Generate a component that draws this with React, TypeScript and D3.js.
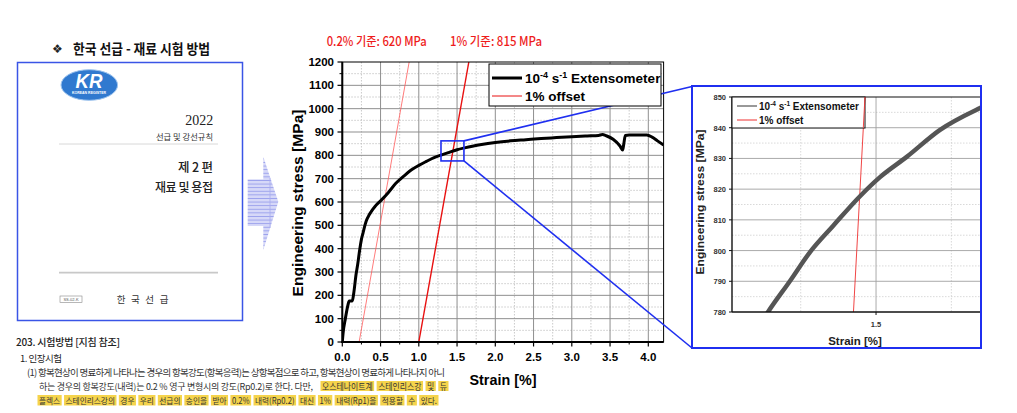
import React from "react";
import * as d3 from "d3";

// ---------------- data ----------------
const mainStrain = [0, 0.01, 0.04, 0.075, 0.09, 0.13, 0.15, 0.18, 0.2, 0.227, 0.25, 0.27, 0.3, 0.314, 0.35, 0.38, 0.43, 0.51, 0.6, 0.7, 0.8, 0.9, 1.0, 1.1, 1.2, 1.3, 1.4, 1.5, 1.6, 1.7, 1.8, 2.0, 2.2, 2.4, 2.6, 2.8, 3.0, 3.2, 3.35, 3.4, 3.45, 3.54, 3.63, 3.665, 3.68, 3.7, 3.75, 3.98, 4.05, 4.12, 4.2];
const mainStress = [0, 37, 100, 160, 176, 176, 210, 290, 330, 394, 440, 466, 505, 520, 544, 560, 582, 608, 640, 680, 710, 737, 757, 774, 790, 802, 813, 824, 832, 839, 845, 855, 862, 867, 872, 876, 880, 883, 885, 889, 884, 869, 840, 823, 850, 885, 887, 887, 878, 862, 844];

const insetStrain = [1.12, 1.1415, 1.2145, 1.2809, 1.3572, 1.4468, 1.5132, 1.6018, 1.7124, 1.8451, 1.86];
const insetStress = [776.7, 780, 790.1, 799.5, 808.0, 817.7, 823.9, 830.5, 839.3, 846.4, 847.1];

const offsetStrains = [0.22, 1.0]; // 0.2% line, 1% line
const strainPerMPa = 0.000545;

const mainXTicks = [0, 0.5, 1.0, 1.5, 2.0, 2.5, 3.0, 3.5, 4.0];
const mainYTicks = [0, 100, 200, 300, 400, 500, 600, 700, 800, 900, 1000, 1100, 1200];
const insetXTicks = [1.5];
const insetYTicks = [780, 790, 800, 810, 820, 830, 840, 850];

const zoomBoxStrain = [1.29, 1.59];
const zoomBoxStress = [776, 862];

const annotations = ["0.2% 기준: 620 MPa", "1% 기준: 815 MPa"];
const legendLabels = ["Extensometer", "1% offset"];

const highlightLine2 = ["오스테나이트계", "스테인리스강", "및", "듀"];
const highlightLine3 = ["플렉스", "스테인리스강의", "경우", "우리", "선급의", "승인을", "받아", "0.2%", "내력(Rp0.2)", "대신", "1%", "내력(Rp1)을", "적용할", "수", "있다."];

// ---------------- helpers ----------------
const KFONT = "'Noto Sans CJK KR', 'Noto Sans', sans-serif";
const AFONT = "'Liberation Sans', Arial, sans-serif";
const SFONT = "'Liberation Serif', 'DejaVu Serif', serif";

let _ctx: CanvasRenderingContext2D | null = null;
function measure(t: string, font: string): number {
  if (typeof document !== "undefined" && !_ctx) {
    _ctx = document.createElement("canvas").getContext("2d");
  }
  if (_ctx) {
    _ctx.font = font;
    return _ctx.measureText(t).width;
  }
  return t.length * 8;
}

function layoutWords(words: string[], x0: number, x1: number, size: number) {
  const font = `${size}px 'Noto Sans CJK KR'`;
  const ws = words.map((w) => measure(w, font));
  const gap = size * 0.7;
  const natural = ws.reduce((a, b) => a + b, 0) + gap * (words.length - 1);
  const s = (x1 - x0) / natural;
  let x = x0;
  return words.map((w, i) => {
    const r = { w, x, width: ws[i] * s };
    x += (ws[i] + gap) * s;
    return r;
  });
}

export default function App() {
  // main scales
  const xM = d3.scaleLinear().domain([0, 4.2]).range([342.3, 663.6]);
  const yM = d3.scaleLinear().domain([0, 1200]).range([342, 62]);
  // inset scales
  const xI = d3.scaleLinear().domain([1.022, 1.845]).range([732, 980]);
  const yI = d3.scaleLinear().domain([780, 850]).range([312, 97]);

  const mainPts: [number, number][] = mainStrain.map((s, i) => [s, mainStress[i]]);
  const insetPts: [number, number][] = insetStrain.map((s, i) => [s, insetStress[i]]);

  const lineM = d3.line<[number, number]>().x((d) => xM(d[0])).y((d) => yM(d[1])).curve(d3.curveMonotoneX);
  const lineMStraight = d3.line<[number, number]>().x((d) => xM(d[0])).y((d) => yM(d[1]));
  const lineI = d3.line<[number, number]>().x((d) => xI(d[0])).y((d) => yI(d[1])).curve(d3.curveMonotoneX);
  const lineIStraight = d3.line<[number, number]>().x((d) => xI(d[0])).y((d) => yI(d[1]));

  const offsetLine = (o: number): [number, number][] => [
    [o, 0],
    [o + 1200 * strainPerMPa, 1200],
  ];

  const minorX = d3.range(0.25, 4.2, 0.5);
  const minorY = d3.range(50, 1200, 100);
  const insetMinorX = [1.25, 1.75];
  const insetMinorY = d3.range(785, 850, 10);

  const bx0 = xM(zoomBoxStrain[0]);
  const bx1 = xM(zoomBoxStrain[1]);
  const by0 = yM(zoomBoxStress[1]);
  const by1 = yM(zoomBoxStress[0]);

  const inset = { x: 692, y: 86, w: 289, h: 262 };

  const hl2 = layoutWords(highlightLine2, 322, 447, 10);
  const hl3 = layoutWords(highlightLine3, 39, 437, 10);

  const blue = "#1f2ff0";

  return (
    <svg width={1017} height={413} style={{ position: "absolute", left: 0, top: 0, background: "#fff" }}>
      <defs>
        <clipPath id="mainClip">
          <rect x={342.3} y={62} width={663.6 - 342.3} height={280} />
        </clipPath>
        <clipPath id="insetClip">
          <rect x={732} y={97} width={248} height={215} />
        </clipPath>
        <pattern id="stripes" width={6} height={3.6} patternUnits="userSpaceOnUse">
          <rect width={6} height={3.6} fill="#d6d8f8" />
          <rect width={6} height={0.9} fill="#9aa0ec" />
        </pattern>
      </defs>

      {/* ---------- left document ---------- */}
      <text x={52} y={52.5} fontFamily="'DejaVu Sans', sans-serif" fontSize={12} fill="#222">❖</text>
      <text x={73} y={53.5} fontFamily={KFONT} fontWeight={700} fontSize={14} fill="#111" textLength={137} lengthAdjust="spacingAndGlyphs">
        한국 선급 - 재료 시험 방법
      </text>

      <rect x={17.5} y={62.5} width={225} height={258} fill="#fff" stroke="#3a55e6" strokeWidth={1.5} />
      {/* KR logo */}
      <ellipse cx={89.3} cy={85} rx={28.3} ry={15.3} fill="#3079cf" stroke="#9cc3ee" strokeWidth={1} />
      <text x={89} y={88} textAnchor="middle" fontFamily={AFONT} fontStyle="italic" fontWeight={700} fontSize={20} fill="#fff" textLength={27} lengthAdjust="spacingAndGlyphs">KR</text>
      <text x={89} y={94} textAnchor="middle" fontFamily={AFONT} fontWeight={700} fontSize={3.6} fill="#fff" textLength={34} lengthAdjust="spacingAndGlyphs">KOREAN REGISTER</text>

      <text x={213.3} y={125} textAnchor="end" fontFamily={SFONT} fontSize={14} fill="#222">2022</text>
      <text x={213} y={140} textAnchor="end" fontFamily={KFONT} fontSize={8} fill="#333" textLength={57} lengthAdjust="spacingAndGlyphs">선급 및 강선규칙</text>
      <line x1={59} x2={218} y1={144} y2={144} stroke="#d8d8d8" strokeWidth={1} />
      <text x={213} y={171.5} textAnchor="end" fontFamily={KFONT} fontWeight={500} fontSize={12.5} fill="#222" textLength={35} lengthAdjust="spacing">제 2 편</text>
      <text x={213} y={191.5} textAnchor="end" fontFamily={KFONT} fontWeight={500} fontSize={12} fill="#222" textLength={58} lengthAdjust="spacing">재료 및 용접</text>
      <line x1={59} x2={218} y1={272.7} y2={272.7} stroke="#c8c8c8" strokeWidth={1.8} />
      <rect x={60} y={296} width={22} height={6.5} fill="#fff" stroke="#888" strokeWidth={0.6} />
      <text x={71} y={301.3} textAnchor="middle" fontFamily={AFONT} fontSize={4} fill="#555">SS-02-K</text>
      <text x={116.7} y={302.5} fontFamily={KFONT} fontSize={9.5} fill="#333" textLength={51.7} lengthAdjust="spacing">한 국 선 급</text>

      {/* arrow */}
      <polygon
        points="247.7,179.3 263.3,179.3 263.3,156.7 278.3,201.7 263.3,250 263.3,226 247.7,226"
        fill="url(#stripes)"
      />
      <line x1={270} x2={270} y1={178} y2={228} stroke="#a8acef" strokeWidth={0.8} />

      {/* body text */}
      <text x={16} y={345.5} fontFamily={KFONT} fontWeight={500} fontSize={10} fill="#222" textLength={104} lengthAdjust="spacing">203. 시험방법  [지침 참조]</text>
      <text x={20} y={361.5} fontFamily={KFONT} fontSize={9.5} fill="#222" textLength={42} lengthAdjust="spacing">1. 인장시험</text>
      <text x={27} y={375.5} fontFamily={KFONT} fontSize={9.5} fill="#333" textLength={418} lengthAdjust="spacing">
        (1) 항복현상이 명료하게 나타나는 경우의 항복강도(항복응력)는 상항복점으로 하고, 항복현상이 명료하게 나타나지 아니
      </text>
      <text x={39} y={389.5} fontFamily={KFONT} fontSize={9} fill="#333" textLength={274} lengthAdjust="spacing">
        하는 경우의 항복강도(내력)는 0.2 % 영구 변형시의 강도(Rp0.2)로 한다. 다만,
      </text>
      {hl2.map((w, i) => (
        <rect key={"h2r" + i} x={w.x - 1.5} y={381} width={w.width + 3} height={10} fill="#f5d44c" />
      ))}
      {hl2.map((w, i) => (
        <text key={"h2t" + i} x={w.x} y={389.5} fontFamily={KFONT} fontSize={9} fill="#333" textLength={w.width} lengthAdjust="spacingAndGlyphs">{w.w}</text>
      ))}
      {hl3.map((w, i) => (
        <rect key={"h3r" + i} x={w.x - 1.5} y={395} width={w.width + 3} height={10.5} fill="#f5d44c" />
      ))}
      {hl3.map((w, i) => (
        <text key={"h3t" + i} x={w.x} y={403.5} fontFamily={KFONT} fontSize={8.5} fill="#333" textLength={w.width} lengthAdjust="spacingAndGlyphs">{w.w}</text>
      ))}

      {/* ---------- annotations ---------- */}
      <text x={326.7} y={46} fontFamily={KFONT} fontWeight={500} fontSize={12.5} fill="#ee1c1c" textLength={100} lengthAdjust="spacingAndGlyphs">{annotations[0]}</text>
      <text x={450} y={46} fontFamily={KFONT} fontWeight={500} fontSize={12.5} fill="#ee1c1c" textLength={92} lengthAdjust="spacingAndGlyphs">{annotations[1]}</text>

      {/* ---------- main chart ---------- */}
      {minorY.map((v) => (
        <line key={"my" + v} x1={342.3} x2={663.6} y1={yM(v)} y2={yM(v)} stroke="#bdbdbd" strokeWidth={0.8} strokeDasharray="1.5 1.5" />
      ))}
      {minorX.map((v) => (
        <line key={"mx" + v} x1={xM(v)} x2={xM(v)} y1={62} y2={342} stroke="#bdbdbd" strokeWidth={0.8} strokeDasharray="1.5 1.5" />
      ))}
      {mainYTicks.slice(1, -1).map((v) => (
        <line key={"gy" + v} x1={342.3} x2={663.6} y1={yM(v)} y2={yM(v)} stroke="#8f8f8f" strokeWidth={1} />
      ))}
      {mainXTicks.slice(1).map((v) => (
        <line key={"gx" + v} x1={xM(v)} x2={xM(v)} y1={62} y2={342} stroke="#8f8f8f" strokeWidth={1} />
      ))}

      <g clipPath="url(#mainClip)">
        <path d={lineMStraight(offsetLine(offsetStrains[0])) || ""} fill="none" stroke="#ff5a5a" strokeWidth={0.8} />
        <path d={lineMStraight(offsetLine(offsetStrains[1])) || ""} fill="none" stroke="#e81010" strokeWidth={1.4} />
        <path d={lineM(mainPts) || ""} fill="none" stroke="#000" strokeWidth={3} strokeLinejoin="round" />
      </g>

      {/* frame */}
      <rect x={342.3} y={62} width={663.6 - 342.3} height={280} fill="none" stroke="#000" strokeWidth={1} />
      <line x1={342.3} x2={342.3} y1={62} y2={343} stroke="#000" strokeWidth={2} />
      <line x1={341.3} x2={663.6} y1={342} y2={342} stroke="#000" strokeWidth={2} />

      {/* ticks */}
      {mainYTicks.map((v) => (
        <g key={"ty" + v}>
          <line x1={337.5} x2={342.3} y1={yM(v)} y2={yM(v)} stroke="#000" strokeWidth={1.2} />
          <text x={334} y={yM(v) + 4} textAnchor="end" fontFamily={AFONT} fontWeight={700} fontSize={11.5} fill="#000">{v}</text>
        </g>
      ))}
      {minorY.map((v) => (
        <line key={"tmy" + v} x1={339.5} x2={342.3} y1={yM(v)} y2={yM(v)} stroke="#000" strokeWidth={1} />
      ))}
      {mainXTicks.map((v) => (
        <g key={"tx" + v}>
          <line x1={xM(v)} x2={xM(v)} y1={342} y2={346.5} stroke="#000" strokeWidth={1.2} />
          <text x={xM(v)} y={361} textAnchor="middle" fontFamily={AFONT} fontWeight={700} fontSize={11.5} fill="#000">{v.toFixed(1)}</text>
        </g>
      ))}
      {minorX.map((v) => (
        <line key={"tmx" + v} x1={xM(v)} x2={xM(v)} y1={342} y2={344.5} stroke="#000" strokeWidth={1} />
      ))}

      <text x={503} y={385} textAnchor="middle" fontFamily={AFONT} fontWeight={700} fontSize={15.5} fill="#000" textLength={67} lengthAdjust="spacingAndGlyphs">Strain [%]</text>
      <text transform="translate(303,203) rotate(-90)" textAnchor="middle" fontFamily={AFONT} fontWeight={700} fontSize={15.5} fill="#000" textLength={187} lengthAdjust="spacingAndGlyphs">Engineering stress [MPa]</text>

      {/* zoom connectors */}
      <rect x={bx0} y={by0} width={bx1 - bx0} height={by1 - by0} fill="none" stroke={blue} strokeWidth={1.6} />
      <line x1={bx1} y1={by0} x2={inset.x} y2={inset.y + 0.5} stroke={blue} strokeWidth={1.6} />
      <line x1={bx1} y1={by1} x2={inset.x} y2={inset.y + inset.h} stroke={blue} strokeWidth={1.6} />

      {/* main legend */}
      <rect x={489} y={64} width={172} height={42} fill="#fff" stroke="#000" strokeWidth={1} />
      <line x1={492} x2={522} y1={78} y2={78} stroke="#000" strokeWidth={3} />
      <text x={525} y={83} fontFamily={AFONT} fontWeight={700} fontSize={13.5} fill="#000">
        10<tspan dy={-5.5} fontSize={9}>-4</tspan>
        <tspan dy={5.5}> s</tspan>
        <tspan dy={-5.5} fontSize={9}>-1</tspan>
        <tspan dy={5.5}> {legendLabels[0]}</tspan>
      </text>
      <line x1={492} x2={522} y1={96} y2={96} stroke="#e81010" strokeWidth={1} />
      <text x={525} y={101} fontFamily={AFONT} fontWeight={700} fontSize={13.5} fill="#000">{legendLabels[1]}</text>

      {/* ---------- inset ---------- */}
      <rect x={inset.x} y={inset.y} width={inset.w} height={inset.h} fill="#fff" stroke="none" />
      {insetMinorY.map((v) => (
        <line key={"imy" + v} x1={732} x2={980} y1={yI(v)} y2={yI(v)} stroke="#c8c8c8" strokeWidth={0.7} strokeDasharray="1.5 1.5" />
      ))}
      {insetMinorX.map((v) => (
        <line key={"imx" + v} x1={xI(v)} x2={xI(v)} y1={97} y2={312} stroke="#c8c8c8" strokeWidth={0.7} strokeDasharray="1.5 1.5" />
      ))}
      {insetYTicks.slice(1, -1).map((v) => (
        <line key={"igy" + v} x1={732} x2={980} y1={yI(v)} y2={yI(v)} stroke="#a0a0a0" strokeWidth={0.9} />
      ))}
      {insetXTicks.map((v) => (
        <line key={"igx" + v} x1={xI(v)} x2={xI(v)} y1={97} y2={312} stroke="#a0a0a0" strokeWidth={0.9} />
      ))}
      <g clipPath="url(#insetClip)">
        <path d={lineIStraight(offsetLine(offsetStrains[1])) || ""} fill="none" stroke="#ee3030" strokeWidth={0.9} />
        <path d={lineI(insetPts) || ""} fill="none" stroke="#555" strokeWidth={4.5} strokeLinejoin="round" strokeLinecap="round" />
      </g>
      <line x1={732} x2={980} y1={97} y2={97} stroke="#111" strokeWidth={1.2} />
      <line x1={732} x2={732} y1={97} y2={312} stroke="#111" strokeWidth={1.4} />
      <line x1={732} x2={980} y1={312} y2={312} stroke="#111" strokeWidth={1.4} />
      {insetYTicks.map((v) => (
        <g key={"ity" + v}>
          <line x1={729} x2={732} y1={yI(v)} y2={yI(v)} stroke="#111" strokeWidth={1} />
          <text x={726} y={yI(v) + 3} textAnchor="end" fontFamily={AFONT} fontWeight={700} fontSize={7.5} fill="#333">{v}</text>
        </g>
      ))}
      {insetXTicks.map((v) => (
        <g key={"itx" + v}>
          <line x1={xI(v)} x2={xI(v)} y1={312} y2={315} stroke="#111" strokeWidth={1} />
          <text x={xI(v)} y={327} textAnchor="middle" fontFamily={AFONT} fontWeight={700} fontSize={7.5} fill="#333">{v.toFixed(1)}</text>
        </g>
      ))}
      <text x={855} y={345} textAnchor="middle" fontFamily={AFONT} fontWeight={700} fontSize={11.5} fill="#222">Strain [%]</text>
      <text transform="translate(704,202) rotate(-90)" textAnchor="middle" fontFamily={AFONT} fontWeight={700} fontSize={11} fill="#222" textLength={145} lengthAdjust="spacingAndGlyphs">Engineering stress [MPa]</text>

      {/* inset legend */}
      <rect x={732} y={97} width={133} height={31} fill="#fff" stroke="#111" strokeWidth={1} />
      <line x1={737} x2={757} y1={106} y2={106} stroke="#333" strokeWidth={1} />
      <text x={759} y={110} fontFamily={AFONT} fontWeight={700} fontSize={10} fill="#111">
        10<tspan dy={-4} fontSize={6.5}>-4</tspan>
        <tspan dy={4}> s</tspan>
        <tspan dy={-4} fontSize={6.5}>-1</tspan>
        <tspan dy={4}> {legendLabels[0]}</tspan>
      </text>
      <line x1={737} x2={757} y1={120} y2={120} stroke="#ee3030" strokeWidth={1} />
      <text x={759} y={124} fontFamily={AFONT} fontWeight={700} fontSize={10} fill="#111">{legendLabels[1]}</text>
      <line x1={xI(1 + 850 * strainPerMPa)} x2={xI(1 + 840 * strainPerMPa)} y1={yI(850)} y2={yI(840)} stroke="#ee3030" strokeWidth={0.9} />

      <rect x={inset.x} y={inset.y} width={inset.w} height={inset.h} fill="none" stroke={blue} strokeWidth={2} />
    </svg>
  );
}
